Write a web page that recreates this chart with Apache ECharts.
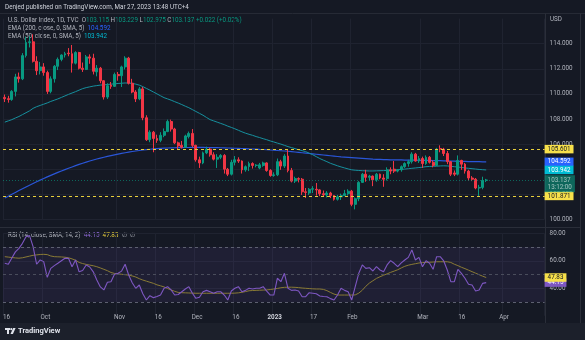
<!DOCTYPE html>
<html><head><meta charset="utf-8">
<script src="https://cdn.jsdelivr.net/npm/echarts@6/dist/echarts.min.js"></script>
<style>html,body{margin:0;padding:0;background:#151924;}#c{width:585px;height:340px;}</style>
</head><body><div id="c"></div>
<script>
const dates = ['2022-09-16','2022-09-19','2022-09-20','2022-09-21','2022-09-22','2022-09-23','2022-09-26','2022-09-27','2022-09-28','2022-09-29','2022-09-30',
'2022-10-03','2022-10-04','2022-10-05','2022-10-06','2022-10-07','2022-10-10','2022-10-11','2022-10-12','2022-10-13','2022-10-14','2022-10-17','2022-10-18','2022-10-19','2022-10-20','2022-10-21','2022-10-24','2022-10-25','2022-10-26','2022-10-27','2022-10-28','2022-10-31',
'2022-11-01','2022-11-02','2022-11-03','2022-11-04','2022-11-07','2022-11-08','2022-11-09','2022-11-10','2022-11-11','2022-11-14','2022-11-15','2022-11-16','2022-11-17','2022-11-18','2022-11-21','2022-11-22','2022-11-23','2022-11-24','2022-11-25','2022-11-28','2022-11-29','2022-11-30',
'2022-12-01','2022-12-02','2022-12-05','2022-12-06','2022-12-07','2022-12-08','2022-12-09','2022-12-12','2022-12-13','2022-12-14','2022-12-15','2022-12-16','2022-12-19','2022-12-20','2022-12-21','2022-12-22','2022-12-23','2022-12-26','2022-12-27','2022-12-28','2022-12-29','2022-12-30',
'2023-01-02','2023-01-03','2023-01-04','2023-01-05','2023-01-06','2023-01-09','2023-01-10','2023-01-11','2023-01-12','2023-01-13','2023-01-16','2023-01-17','2023-01-18','2023-01-19','2023-01-20','2023-01-23','2023-01-24','2023-01-25','2023-01-26','2023-01-27','2023-01-30','2023-01-31',
'2023-02-01','2023-02-02','2023-02-03','2023-02-06','2023-02-07','2023-02-08','2023-02-09','2023-02-10','2023-02-13','2023-02-14','2023-02-15','2023-02-16','2023-02-17','2023-02-20','2023-02-21','2023-02-22','2023-02-23','2023-02-24','2023-02-27','2023-02-28',
'2023-03-01','2023-03-02','2023-03-03','2023-03-06','2023-03-07','2023-03-08','2023-03-09','2023-03-10','2023-03-13','2023-03-14','2023-03-15','2023-03-16','2023-03-17','2023-03-20','2023-03-21','2023-03-22','2023-03-23','2023-03-24','2023-03-27','2023-03-28','2023-03-29','2023-03-30','2023-03-31',
'2023-04-03','2023-04-04','2023-04-05','2023-04-06','2023-04-07','2023-04-10','2023-04-11','2023-04-12','2023-04-13','2023-04-14','2023-04-17','2023-04-18'];

const open = [109.72,109.62,109.55,110.20,111.35,111.20,113.05,114.10,114.15,112.60,
111.85,112.15,111.70,110.20,111.20,112.20,112.75,113.10,113.25,113.20,
112.45,113.30,112.05,111.95,112.95,112.85,111.75,112.05,111.05,109.75,
110.70,110.60,111.55,111.45,112.15,112.85,110.85,110.15,109.60,110.40,
108.10,106.35,106.95,106.45,106.30,106.70,107.00,107.80,107.20,106.10,
105.90,105.75,106.60,106.85,105.90,104.75,104.50,105.30,105.60,105.15,
104.80,104.95,105.10,104.00,103.60,104.55,104.75,104.65,103.95,104.20,
104.45,104.30,104.10,104.30,104.50,103.90,103.50,103.55,104.60,104.25,
105.05,103.90,103.05,103.25,103.20,102.20,102.10,102.40,102.40,102.35,
102.05,101.95,102.10,101.90,101.60,101.80,101.90,102.05,102.25,101.20,
101.65,102.95,103.60,103.35,103.45,103.15,103.60,103.30,103.25,103.95,
104.00,103.85,103.95,104.20,104.45,104.60,105.20,104.65,104.85,104.45,
104.95,104.55,104.30,105.65,105.60,105.25,104.60,103.70,103.60,104.70,
104.40,103.85,103.30,103.20,102.50,102.55,103.115];
const high = [109.95,109.85,110.30,111.60,111.70,113.25,114.55,114.60,114.75,113.00,
112.55,112.45,111.85,111.40,112.30,112.90,113.15,113.35,113.65,113.90,
113.40,113.35,112.50,113.10,113.15,113.20,112.30,112.15,111.10,110.85,
110.95,111.70,111.75,112.25,113.00,112.95,111.20,110.30,110.55,110.55,
108.30,107.10,107.05,106.75,106.95,107.25,107.95,107.95,107.30,106.20,
106.25,106.75,107.00,107.20,105.95,105.00,105.40,105.80,105.70,105.35,
105.20,105.20,105.20,104.10,104.75,105.05,104.95,104.70,104.30,104.60,
104.55,104.40,104.50,104.60,104.55,104.00,103.75,104.85,104.75,105.20,
105.60,104.10,103.40,103.35,103.30,102.50,102.50,102.65,102.90,102.40,
102.30,102.25,102.20,101.95,101.95,102.05,102.35,102.40,102.35,101.75,
103.05,103.70,103.95,103.55,103.50,103.70,103.65,103.60,104.15,104.15,
104.65,104.00,104.30,104.55,104.75,105.35,105.30,105.05,105.00,105.10,
105.05,104.70,105.70,105.90,105.70,105.45,104.65,103.90,105.10,104.75,
104.50,103.95,103.45,103.30,102.75,103.40,103.229];
const low = [109.35,109.30,109.45,109.80,110.90,111.10,112.90,113.70,112.50,111.50,
111.55,111.45,110.00,110.05,110.90,111.90,112.60,112.90,113.00,111.70,
112.35,111.95,111.75,111.90,112.40,111.55,111.40,110.85,109.55,109.60,
110.40,110.55,111.05,110.55,111.95,110.75,110.05,109.35,109.50,107.90,
106.25,106.15,105.35,106.10,106.15,106.55,106.95,107.00,106.00,105.60,
105.65,105.70,106.45,105.75,104.60,104.10,104.40,105.20,105.00,104.70,
104.10,104.80,103.65,103.45,103.50,104.30,104.50,103.65,103.80,103.85,
104.05,104.15,104.00,104.20,103.80,103.40,103.40,103.45,103.95,104.10,
103.75,102.95,102.90,102.95,101.95,101.70,101.95,102.10,101.90,101.85,
101.80,101.75,101.70,101.50,101.50,101.55,101.85,101.90,101.05,100.80,
101.45,102.90,103.00,103.10,102.65,103.00,103.20,102.60,103.10,103.60,
103.70,103.75,103.80,104.10,104.20,104.45,104.60,104.50,104.10,104.35,
104.45,104.15,104.25,105.35,105.05,104.40,103.45,103.45,103.50,103.95,
103.65,103.10,103.05,102.40,101.87,102.40,102.975];
const close = [109.62,109.55,110.20,111.35,111.20,113.05,114.10,114.15,112.60,111.85,
112.15,111.70,110.20,111.20,112.20,112.75,113.10,113.20,113.20,112.45,
113.30,112.05,111.95,112.95,112.85,111.80,112.05,111.05,109.75,110.65,
110.60,111.55,111.45,112.15,112.85,110.85,110.15,109.60,110.40,108.10,
106.35,106.95,106.45,106.30,106.70,107.00,107.80,107.20,106.10,105.85,
105.75,106.65,106.85,105.90,104.75,104.50,105.30,105.60,105.15,104.80,
104.95,105.10,104.00,103.60,104.55,104.75,104.65,103.95,104.20,104.45,
104.30,104.32,104.35,104.50,103.90,103.50,103.55,104.60,104.25,105.05,
103.90,103.05,103.25,103.20,102.20,102.15,102.40,102.45,102.35,102.05,
101.95,102.10,101.90,101.60,101.80,101.90,102.05,102.25,101.20,101.65,
102.95,103.60,103.35,103.45,103.15,103.60,103.30,103.20,103.95,103.85,
103.85,103.95,104.20,104.45,104.60,105.20,104.65,104.85,104.45,104.95,
104.55,104.30,105.60,105.60,105.25,104.60,103.60,103.60,104.70,104.40,
103.85,103.30,103.20,102.50,102.55,103.10,103.137];

const ema200 = [101.7,101.85,102.0,102.15,102.3,102.44,102.58,102.72,102.86,103.0,
103.13,103.26,103.39,103.51,103.63,103.75,103.86,103.97,104.08,104.18,
104.28,104.38,104.47,104.56,104.65,104.73,104.81,104.88,104.95,105.02,
105.08,105.14,105.2,105.26,105.31,105.36,105.41,105.45,105.49,105.53,
105.56,105.59,105.62,105.64,105.66,105.68,105.69,105.7,105.71,105.72,
105.72,105.73,105.73,105.74,105.74,105.74,105.74,105.73,105.73,105.72,105.72,
105.71,105.7,105.69,105.68,105.67,105.66,105.65,105.64,105.62,105.61,
105.6,105.58,105.57,105.55,105.53,105.51,105.49,105.47,105.45,105.43,
105.4,105.37,105.34,105.31,105.28,105.25,105.22,105.19,105.16,105.13,
105.1,105.07,105.04,105.01,104.98,104.96,104.94,104.92,104.9,104.88,
104.86,104.84,104.82,104.8,104.79,104.78,104.77,104.76,104.75,104.75,
104.74,104.74,104.73,104.73,104.72,104.72,104.71,104.71,104.7,104.7,
104.69,104.69,104.68,104.67,104.66,104.65,104.64,104.63,104.62,104.62,
104.61,104.61,104.6,104.6,104.59,104.59];
const ema50 = [107.75,107.85,107.95,108.08,108.2,108.35,108.5,108.65,108.85,
108.98,109.08,109.18,109.28,109.4,
109.5,109.6,109.72,109.84,109.96,
110.07,110.18,110.3,110.42,
110.5,110.56,110.62,110.66,110.7,
110.72,110.75,110.78,110.8,110.83,110.85,110.87,
110.86,110.84,110.78,110.7,
110.58,110.44,110.3,110.15,110.0,109.85,109.7,
109.6,109.5,109.38,109.27,
109.15,109.02,108.9,108.75,108.6,
108.45,108.3,108.12,107.95,
107.85,107.75,107.65,107.55,107.43,
107.33,107.22,107.1,106.98,106.87,
106.78,106.7,106.6,106.52,106.43,106.35,106.25,
106.17,106.08,106.0,105.9,105.8,
105.72,105.64,105.55,105.48,105.4,
105.28,105.15,105.0,104.85,104.72,104.6,104.47,
104.37,104.27,104.18,104.1,104.02,103.95,
103.92,103.9,103.88,103.87,103.86,103.86,103.87,103.88,
103.89,103.9,103.92,103.94,
103.96,103.98,104.01,104.04,104.07,104.1,104.13,104.16,104.2,
104.22,104.23,104.24,104.26,104.27,104.26,
104.23,104.2,104.17,104.14,104.1,104.07,
104.04,104.01,103.98,103.96,103.94];

const rsi = [58.2,57.5,62,66.5,69,72.7,77.5,78.3,70.3,57.5,
60.6,59.4,48,54.5,56.5,58.2,60,61.8,61.8,55.7,
60.6,52,53,57,55.5,52,46,41,38.8,44.4,
44.8,50.2,51,52.5,57.5,49.7,44,40,42.4,36,
31.5,34.6,33.2,34,35.1,40,41.2,38.8,35.1,35.5,
37.5,39.5,41.2,36.4,32.7,33.5,37.5,38.5,37.5,36.4,
37.5,37.5,35.1,31.5,38,40,41.2,37.5,38.5,40,
39.5,40,40,41.2,38,35.1,35.1,47.3,44.8,50.9,
40,38.5,38.8,38.1,33.9,33.9,36.8,36.4,36,34.4,
34,33.9,32.5,31.5,35.1,40,38.5,37.5,31.5,41.2,
50.9,57,54.5,55,52.6,55.7,53.3,52,57,60.1,
58.2,55.7,58.5,60.6,62.5,67.9,60.6,62.5,55.7,60.1,
58.2,53.8,63,63,59.9,53.3,44.8,44.8,53.8,50.9,
47.3,42.9,42.4,38.1,38.8,43.6,44.15];
const rsiMa = [63,62.7,62.4,62.1,61.9,62.2,62.8,63.4,64,64.3,
64.6,64.7,64.5,63.5,63,62.9,62.8,62.6,62.2,61.4,
60.4,58.8,58,57.4,56.9,56.4,55.7,54.8,53.8,52.8,
51.5,50.8,50.5,50.2,49.9,49.6,49,48.2,47,46,
45.2,44.4,43.6,42.5,41.8,41,39.8,38.8,37.8,37,
36.8,36.7,36.6,36.5,36.4,36.4,36.4,36.4,36.4,36.4,
36.4,36.4,36.4,36.4,36.4,36.5,36.7,37.1,37.6,38.2,
38.4,38.5,38.6,38.7,38.8,39.1,39.5,39.9,40.4,40.7,
40.8,40.8,40.7,40.5,40.2,40,39.8,39.6,39.5,39.5,
39.2,38.3,37,35.8,35.1,35.1,35.1,35.1,35.1,35.2,
36.5,38.6,41.5,43.8,45.5,47.2,48.4,49.5,50.5,51.6,
52.5,53.5,54.8,56,56.8,57.4,57.9,58.4,58.7,58.9,
59,59.1,59.3,59.3,59.3,59.3,58.8,57.5,56.5,55.3,
54.3,53.2,52.1,51,49.9,48.8,47.83];

const tickLabels = {'2022-09-16':'16','2022-10-03':'Oct','2022-11-01':'Nov','2022-11-16':'16','2022-12-01':'Dec','2022-12-16':'16','2023-01-02':'2023','2023-01-17':'17','2023-02-01':'Feb','2023-03-01':'Mar','2023-03-16':'16','2023-04-03':'Apr'};
const priceLevels = [105.601, 101.871];
const lastTime = '13:12:00';
const ema200Last = 104.592, ema50Last = 103.942;

const UP = '#089981', DOWN = '#f23645', TXT = '#b2b5be', GRIDC = '#1f2330', BG = '#151924';
const F = 'Roboto, "Liberation Sans", Arial, sans-serif';
const FS = 6.3;
const BW = 3.54, LEFT = 3;
const gw = dates.length * BW;
const isTick = (i) => tickLabels[dates[i]] !== undefined;
const nLast = close.length - 1;
const CLEAR = 'rgba(0,0,0,0)';

const candleData = open.map((o, i) => [o, close[i], low[i], high[i]]);

function boxLabel(text, bg, fg, extra) {
  return Object.assign({show: true, position: 'end', distance: 0, formatter: text, backgroundColor: bg, color: fg,
    fontSize: FS, fontFamily: F, padding: [1, 3, 0, 3], lineHeight: 7.5}, extra || {});
}

const chart = echarts.init(document.getElementById('c'), null, {renderer: 'canvas'});
const option = {
  animation: false,
  backgroundColor: BG,
  textStyle: {fontFamily: F},
  grid: [
    {left: LEFT, width: gw, top: 18.6, height: 200.8},
    {left: LEFT, width: gw, top: 233.3, height: 82.5},
    {left: LEFT, width: gw, top: 309, height: 1}
  ],
  xAxis: [0, 1].map(g => ({
    type: 'category', gridIndex: g, data: dates, boundaryGap: true,
    axisLine: {show: false}, axisTick: {show: false}, axisLabel: {show: false},
    splitLine: {show: true, interval: (i) => isTick(i), lineStyle: {color: GRIDC, width: 1}}
  })).concat([{
    type: 'category', gridIndex: 2, data: dates, boundaryGap: true,
    axisLine: {show: false}, axisTick: {show: false}, splitLine: {show: false},
    axisLabel: {show: true, interval: (i) => isTick(i), margin: 4, color: TXT, fontSize: FS, fontFamily: F,
      formatter: (v) => { const t = tickLabels[v] || ''; return /^\d{4}$/.test(t) ? '{b|' + t + '}' : t; },
      rich: {b: {fontWeight: 'bold', color: '#d1d4dc', fontSize: FS, fontFamily: F}}}
  }]),
  yAxis: [
    {type: 'value', gridIndex: 0, position: 'right', min: 100, max: 116, interval: 2,
      axisLine: {show: false}, axisTick: {show: false},
      splitLine: {show: true, showMaxLine: false, lineStyle: {color: GRIDC}},
      axisLabel: {color: TXT, fontSize: FS, fontFamily: F, margin: 5, formatter: (v) => v <= 114 ? v.toFixed(3) : ''}},
    {type: 'value', gridIndex: 1, position: 'right', min: 20, max: 80, interval: 20,
      axisLine: {show: false}, axisTick: {show: false},
      splitLine: {show: true, showMinLine: false, lineStyle: {color: GRIDC}},
      axisLabel: {color: TXT, fontSize: FS, fontFamily: F, margin: 5, formatter: (v) => v >= 40 ? v.toFixed(2) : ''}},
    {type: 'value', gridIndex: 2, show: false}
  ],
  series: [
    {type: 'line', xAxisIndex: 0, yAxisIndex: 0, data: ema200, showSymbol: false, z: 3,
      lineStyle: {color: '#2a56d8', width: 1.2},
      markLine: {silent: true, symbol: ['none', 'none'], z: 6,
        data: [{yAxis: ema200Last, lineStyle: {color: CLEAR, width: 0.01}, label: boxLabel(ema200Last.toFixed(3), '#2962ff', '#ffffff')}]}},
    {type: 'line', xAxisIndex: 0, yAxisIndex: 0, data: ema50, showSymbol: false, z: 3,
      lineStyle: {color: '#15909e', width: 1},
      markLine: {silent: true, symbol: ['none', 'none'], z: 6,
        data: [{yAxis: ema50Last, lineStyle: {color: CLEAR, width: 0.01}, label: boxLabel(ema50Last.toFixed(3), '#00bcd4', '#ffffff')}]}},
    {type: 'candlestick', xAxisIndex: 0, yAxisIndex: 0, data: candleData, barWidth: 2.4, z: 4,
      itemStyle: {color: UP, color0: DOWN, borderColor: UP, borderColor0: DOWN, borderWidth: 1},
      markLine: {silent: true, symbol: ['none', 'none'], z: 7,
        data: [
          {yAxis: priceLevels[0], lineStyle: {color: '#e8cf3c', type: [3, 3], width: 1}, label: boxLabel(priceLevels[0].toFixed(3), '#f7e04a', '#131722')},
          {yAxis: priceLevels[1], lineStyle: {color: '#e8cf3c', type: [3, 3], width: 1}, label: boxLabel(priceLevels[1].toFixed(3), '#f7e04a', '#131722')},
          {yAxis: close[nLast], lineStyle: {color: UP, type: [1, 2], width: 1, opacity: 0.6},
            label: boxLabel(close[nLast].toFixed(3) + '\n' + lastTime, UP, '#ffffff', {offset: [0, 3.7], padding: [1, 3, 1, 3]})}
        ]}},
    {type: 'line', xAxisIndex: 1, yAxisIndex: 1, data: rsiMa, showSymbol: false, z: 3,
      lineStyle: {color: '#8a7b35', width: 1},
      markLine: {silent: true, symbol: ['none', 'none'], z: 7,
        data: [{yAxis: rsiMa[nLast], lineStyle: {color: CLEAR, width: 0.01}, label: boxLabel(rsiMa[nLast].toFixed(2), '#f7e04a', '#131722')}]}},
    {type: 'line', xAxisIndex: 1, yAxisIndex: 1, data: rsi, showSymbol: false, z: 4,
      lineStyle: {color: '#7e57c2', width: 1.1},
      markArea: {silent: true, itemStyle: {color: 'rgba(126,87,194,0.10)'}, data: [[{yAxis: 70}, {yAxis: 30}]]},
      markLine: {silent: true, symbol: ['none', 'none'], z: 6,
        data: [
          {yAxis: 70, lineStyle: {color: '#5d6070', type: [3, 3], width: 1}, label: {show: false}},
          {yAxis: 50, lineStyle: {color: '#4a4d5c', type: [3, 3], width: 1}, label: {show: false}},
          {yAxis: 30, lineStyle: {color: '#5d6070', type: [3, 3], width: 1}, label: {show: false}},
          {yAxis: rsi[nLast], lineStyle: {color: CLEAR, width: 0.01}, label: boxLabel(rsi[nLast].toFixed(2), '#7e57c2', '#ffffff')}
        ]}}
  ],
  graphic: [
    {type: 'rect', shape: {x: 0, y: 323, width: 585, height: 17}, style: {fill: '#1c202b'}, z: 0},
    {type: 'line', shape: {x1: 0, y1: 13.5, x2: 585, y2: 13.5}, style: {stroke: '#262a35', lineWidth: 1}},
    {type: 'line', shape: {x1: 0, y1: 227.5, x2: 580, y2: 227.5}, style: {stroke: '#2a2e39', lineWidth: 1}},
    {type: 'line', shape: {x1: 545.5, y1: 13.5, x2: 545.5, y2: 323}, style: {stroke: '#2a2e39', lineWidth: 1}},
    {type: 'line', shape: {x1: 580.5, y1: 13.5, x2: 580.5, y2: 323}, style: {stroke: '#2a2e39', lineWidth: 1}},
    {type: 'text', x: 5, y: 7, style: {text: 'Denjed published on TradingView.com, Mar 27, 2023 13:48 UTC+4', fill: '#d1d4dc', fontSize: FS, fontFamily: F, verticalAlign: 'middle'}},
    {type: 'text', x: 8, y: 20, style: {
      text: '{g|U.S. Dollar Index, 1D, TVC}  {g|O}{v|' + open[nLast].toFixed(3) + '} {g|H}{v|' + high[nLast].toFixed(3) + '} {g|L}{v|' + low[nLast].toFixed(3) + '} {g|C}{v|' + close[nLast].toFixed(3) + '} {v|+0.022 (+0.02%)}',
      fontSize: FS, fontFamily: F, verticalAlign: 'middle',
      rich: {g: {fill: TXT, color: TXT, fontSize: FS, fontFamily: F}, v: {fill: UP, color: UP, fontSize: FS, fontFamily: F}}}},
    {type: 'text', x: 8, y: 28, style: {
      text: '{g|EMA (200, close, 0, SMA, 5)}  {v|' + ema200Last.toFixed(3) + '}', fontSize: FS, fontFamily: F, verticalAlign: 'middle',
      rich: {g: {fill: TXT, color: TXT, fontSize: FS, fontFamily: F}, v: {fill: '#2962ff', color: '#2962ff', fontSize: FS, fontFamily: F}}}},
    {type: 'text', x: 8, y: 36, style: {
      text: '{g|EMA (50, close, 0, SMA, 5)}  {v|' + ema50Last.toFixed(3) + '}', fontSize: FS, fontFamily: F, verticalAlign: 'middle',
      rich: {g: {fill: TXT, color: TXT, fontSize: FS, fontFamily: F}, v: {fill: '#00bcd4', color: '#00bcd4', fontSize: FS, fontFamily: F}}}},
    {type: 'text', x: 8, y: 235, style: {
      text: '{g|RSI (14, close, SMA, 14, 2)}  {p|' + rsi[nLast].toFixed(2) + '}  {y|' + rsiMa[nLast].toFixed(2) + '}  {g|∅  ∅}', fontSize: FS, fontFamily: F, verticalAlign: 'middle',
      rich: {g: {fill: TXT, color: TXT, fontSize: FS, fontFamily: F}, p: {fill: '#8e6ad6', color: '#8e6ad6', fontSize: FS, fontFamily: F}, y: {fill: '#e8cf3c', color: '#e8cf3c', fontSize: FS, fontFamily: F}}}},
    {type: 'text', x: 550, y: 19, style: {text: 'USD', fill: TXT, fontSize: FS, fontFamily: F, verticalAlign: 'middle'}},
    {type: 'rect', shape: {x: 5, y: 328, width: 5, height: 2}, style: {fill: '#e0e3eb'}},
    {type: 'rect', shape: {x: 7, y: 328, width: 2, height: 6}, style: {fill: '#e0e3eb'}},
    {type: 'circle', shape: {cx: 11.3, cy: 329.2, r: 1.1}, style: {fill: '#e0e3eb'}},
    {type: 'polygon', shape: {points: [[13.2, 328], [15.6, 328], [12.9, 334], [10.5, 334]]}, style: {fill: '#e0e3eb'}},
    {type: 'text', x: 18, y: 331.3, style: {text: 'TradingView', fill: '#e0e3eb', fontSize: 7.5, fontWeight: 'bold', fontFamily: F, verticalAlign: 'middle'}}
  ]
};
chart.setOption(option);
</script>
</body></html>
